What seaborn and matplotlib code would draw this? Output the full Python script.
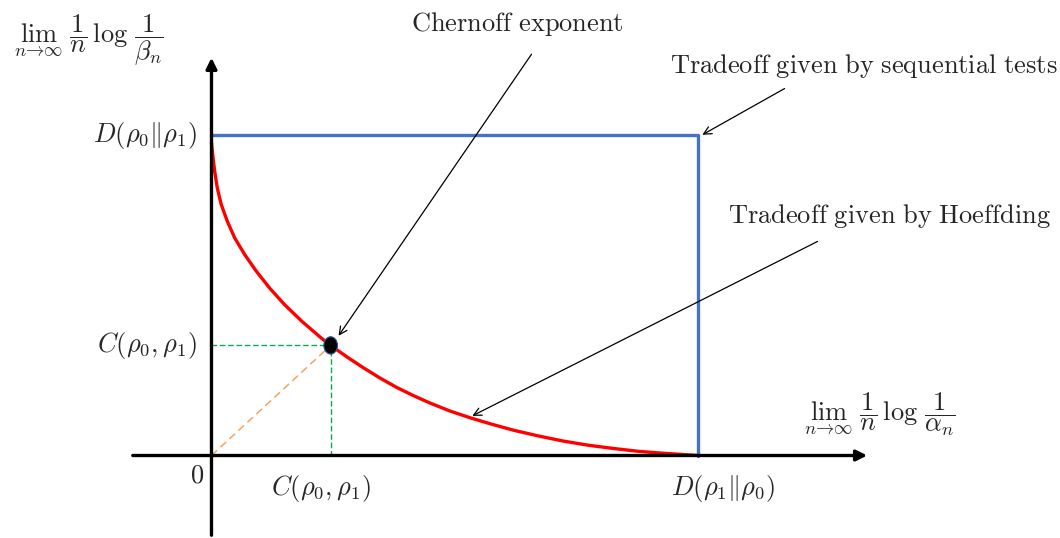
import matplotlib
matplotlib.use('Agg')
import matplotlib.pyplot as plt
from matplotlib.patches import Ellipse
import seaborn as sns

# error exponent tradeoff (Hoeffding curve)
# units: D(rho1||rho0) = 1 on x, D(rho0||rho1) = 1 on y
curve_x = [0.0, 0.0025, 0.0066, 0.0119, 0.0201, 0.0325, 0.0477, 0.0682, 0.0921,
           0.1196, 0.1505, 0.1860, 0.2257, 0.2450, 0.2785, 0.3124, 0.3464, 0.3803,
           0.4146, 0.4491, 0.4902, 0.5313, 0.5755, 0.6208, 0.6721, 0.7235, 0.7749,
           0.8263, 0.8777, 0.9291, 1.0]
curve_y = [0.978, 0.940, 0.888, 0.836, 0.784, 0.732, 0.680, 0.628, 0.576,
           0.523, 0.471, 0.419, 0.367, 0.344, 0.308, 0.274, 0.242, 0.213,
           0.1875, 0.164, 0.139, 0.118, 0.098, 0.079, 0.061, 0.045, 0.032,
           0.022, 0.013, 0.007, 0.0]

d01 = 1.0          # D(rho0||rho1)
d10 = 1.0          # D(rho1||rho0)
cx, cy = 0.245, 0.344   # Chernoff point

# sequential tests tradeoff: box corner
seq_x = [0.0, d10, d10]
seq_y = [d01, d01, 0.0]

sns.set_style('white')
plt.rcParams['mathtext.fontset'] = 'cm'

fig = plt.figure(figsize=(10.6, 5.38), dpi=100)
ax = fig.add_axes([0, 0, 1, 1])
ax.set_xlim(-0.4347, 1.7441)
ax.set_ylim(-0.2578, 1.4234)
ax.axis('off')

# axes with arrows
ax.annotate('', xy=(0, 1.2516), xytext=(0, -0.2578),
            arrowprops=dict(arrowstyle='-|>', lw=2.4, color='black', mutation_scale=16))
ax.annotate('', xy=(1.3535, 0), xytext=(-0.1675, 0),
            arrowprops=dict(arrowstyle='-|>', lw=2.4, color='black', mutation_scale=16))

sns.lineplot(x=seq_x, y=seq_y, sort=False, estimator=None, color='#4472C4',
             lw=2.4, ax=ax)
sns.lineplot(x=curve_x, y=curve_y, sort=False, estimator=None, color='#FF0000',
             lw=2.4, solid_joinstyle='round', ax=ax)

# chernoff guides
ax.plot([0, cx], [cy, cy], ls='--', color='#00B050', lw=1.0, dashes=(4, 2))
ax.plot([cx, cx], [0, cy], ls='--', color='#00B050', lw=1.0, dashes=(4, 2))
ax.plot([0, cx], [0, cy], ls='--', color='#F4A460', lw=1.1, dashes=(5, 3))
ax.add_patch(Ellipse((cx, cy), 0.028, 0.054, facecolor='black',
                     edgecolor='#2F5597', lw=0.8, zorder=5))

fs = 19
ax.text(-0.252, 1.300, r'$\lim_{n\to\infty}\ \dfrac{1}{n}\,\log\,\dfrac{1}{\beta_n}$',
        fontsize=fs, ha='center', va='center')
ax.text(1.374, 0.130, r'$\lim_{n\to\infty}\ \dfrac{1}{n}\,\log\,\dfrac{1}{\alpha_n}$',
        fontsize=fs, ha='center', va='center')

ax.text(-0.030, d01, r'$D(\rho_0\|\rho_1)$', fontsize=fs, ha='right', va='center')
ax.text(-0.030, cy, r'$C(\rho_0,\rho_1)$', fontsize=fs, ha='right', va='center')
ax.text(-0.030, -0.064, r'$0$', fontsize=fs, ha='center', va='center')
ax.text(0.225, -0.102, r'$C(\rho_0,\rho_1)$', fontsize=fs, ha='center', va='center')
ax.text(1.051, -0.102, r'$D(\rho_1\|\rho_0)$', fontsize=fs, ha='center', va='center')

arrow = dict(arrowstyle='->', lw=0.9, color='black', mutation_scale=14)
ax.text(0.628, 1.348, r'$\mathrm{Chernoff\ exponent}$', fontsize=fs, ha='center', va='center')
ax.annotate('', xy=(0.258, 0.367), xytext=(0.661, 1.261), arrowprops=arrow)

ax.text(1.341, 1.217, r'$\mathrm{Tradeoff\ given\ by\ sequential\ tests}$', fontsize=fs,
        ha='center', va='center')
ax.annotate('', xy=(1.004, 0.998), xytext=(1.183, 1.151), arrowprops=arrow)

ax.text(1.393, 0.748, r'$\mathrm{Tradeoff\ given\ by\ Hoeffding}$', fontsize=fs,
        ha='center', va='center')
ax.annotate('', xy=(0.531, 0.120), xytext=(1.251, 0.673), arrowprops=arrow)

fig.savefig('out.png', dpi=100)
